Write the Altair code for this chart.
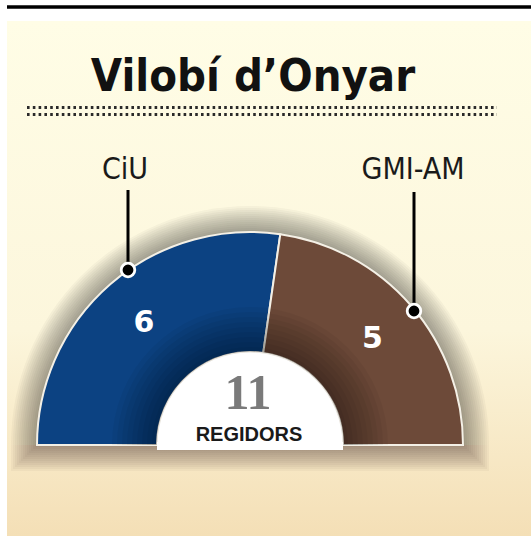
import math
import altair as alt
import pandas as pd

# ---- data ----
parties = ["CiU", "GMI-AM"]
seats = [6, 5]
party_colors = ["#0c4282", "#6d4a39"]
title_text = "Vilobí d’Onyar"
total_caption = "REGIDORS"
total_seats = sum(seats)

# ---- geometry / style ----
W, H = 531, 536
CX, CY = 250, 445
R_OUT, R_IN = 213, 93
T0, T1 = 1.5 * math.pi, 2.5 * math.pi
NARROW = "DejaVu Sans Condensed, sans-serif"

one = pd.DataFrame({"a": [0]})
df = pd.DataFrame({"party": parties, "seats": seats, "order": list(range(len(parties)))})

theta_enc = alt.Theta(
    "seats:Q",
    stack=True,
    scale=alt.Scale(domain=[0, total_seats], range=[T0, T1]),
)

background = alt.Chart(one).mark_rect(
    color=alt.Gradient(
        gradient="linear",
        stops=[
            alt.GradientStop(color="#fffde6", offset=0),
            alt.GradientStop(color="#fcf6dc", offset=0.6),
            alt.GradientStop(color="#f4dfb6", offset=1),
        ],
        x1=0, x2=0, y1=0, y2=1,
    )
).encode(x=alt.value(7), x2=alt.value(W), y=alt.value(21), y2=alt.value(H))

top_rule = alt.Chart(one).mark_rule(color="black", strokeWidth=3.5).encode(
    x=alt.value(7), x2=alt.value(W), y=alt.value(7)
)

title = alt.Chart(one).mark_text(
    text=title_text, font=NARROW, fontSize=45, fontWeight="bold",
    color="#111111", align="center", baseline="alphabetic",
).encode(x=alt.value(253), y=alt.value(91))

dotted = [
    alt.Chart(one).mark_rule(color="#2a2a2a", strokeWidth=2.8, strokeDash=[2.6, 3.2]).encode(
        x=alt.value(27), x2=alt.value(497), y=alt.value(yy)
    )
    for yy in (107.5, 114.5)
]

# soft shadow around the hemicycle
shadow_arcs = [
    alt.Chart(one).mark_arc(
        color="#2a2010", opacity=0.035, radius=R_OUT + 2 * k, theta=T0, theta2=T1
    ).encode(x=alt.value(CX), y=alt.value(CY))
    for k in range(1, 14)
]
shadow_base = [
    alt.Chart(one).mark_rect(color="#2a2010", opacity=0.04).encode(
        x=alt.value(CX - R_OUT - 2 * k), x2=alt.value(CX + R_OUT + 2 * k),
        y=alt.value(CY), y2=alt.value(CY + 2 * k),
    )
    for k in range(1, 14)
]

slices = alt.Chart(df).mark_arc(
    radius=R_OUT, radius2=R_IN, stroke="#f4f0e6", strokeWidth=2
).encode(
    theta=theta_enc,
    color=alt.Color("party:N", scale=alt.Scale(domain=parties, range=party_colors), legend=None),
    order=alt.Order("order:Q"),
    x=alt.value(CX), y=alt.value(CY),
)

# darker shading near the centre
inner_shade = [
    alt.Chart(one).mark_arc(
        color="black", opacity=0.045, radius=R_IN + 5 * k, radius2=R_IN, theta=T0, theta2=T1
    ).encode(x=alt.value(CX), y=alt.value(CY))
    for k in range(1, 10)
]

inner_white = alt.Chart(one).mark_arc(
    color="white", radius=R_IN, theta=T0, theta2=T1, stroke="#e8e4dc", strokeWidth=1
).encode(x=alt.value(CX), y=alt.value(CY))
inner_white_base = alt.Chart(one).mark_rect(color="white").encode(
    x=alt.value(CX - R_IN), x2=alt.value(CX + R_IN), y=alt.value(CY - 3), y2=alt.value(CY + 5)
)

seat_numbers = alt.Chart(df).mark_text(
    radius=162, font="DejaVu Sans, sans-serif", fontSize=30,
    fontWeight="bold", color="white", align="center", baseline="middle",
).encode(
    theta=theta_enc, text="seats:Q", order=alt.Order("order:Q"),
    x=alt.value(CX), y=alt.value(CY),
)

total_df = pd.DataFrame({"total": [total_seats]})
total_num = alt.Chart(total_df).mark_text(
    font="Liberation Serif, DejaVu Serif, serif", fontSize=50, fontWeight="bold",
    color="#7a7a7a", align="center", baseline="alphabetic",
).encode(text="total:Q", x=alt.value(248), y=alt.value(409))

total_cap = alt.Chart(one).mark_text(
    text=total_caption, font="Liberation Sans, DejaVu Sans, sans-serif", fontSize=20,
    fontWeight="bold", color="#1a1a1a", align="center", baseline="alphabetic",
).encode(x=alt.value(249), y=alt.value(441))

# leaders and party names
lab_df = pd.DataFrame({
    "party": parties,
    "lx": [128, 414],
    "ly0": [190, 192],
    "ly1": [270, 311],
    "tx": [125, 413],
})
leaders = alt.Chart(lab_df).mark_rule(color="black", strokeWidth=3).encode(
    x=alt.X("lx:Q", scale=None), y=alt.Y("ly0:Q", scale=None), y2="ly1:Q"
)
leader_dots = alt.Chart(lab_df).mark_point(
    filled=True, shape="circle", size=185, color="black", stroke="white",
    strokeWidth=2.8, opacity=1,
).encode(x=alt.X("lx:Q", scale=None), y=alt.Y("ly1:Q", scale=None))
names = alt.Chart(lab_df).mark_text(
    font=NARROW, fontSize=30, color="#1a1a1a", align="center", baseline="alphabetic",
).encode(x=alt.X("tx:Q", scale=None), y=alt.value(179), text="party:N")

chart = alt.layer(
    background, top_rule, title, *dotted,
    *shadow_arcs, *shadow_base,
    slices, *inner_shade, inner_white, inner_white_base,
    seat_numbers, total_num, total_cap,
    leaders, leader_dots, names,
).properties(
    width=W, height=H, autosize=alt.AutoSizeParams(type="none"), padding=0,
    background="white",
).configure_view(stroke=None)

chart.save("out.html", embed_options={"renderer": "svg", "actions": False})
